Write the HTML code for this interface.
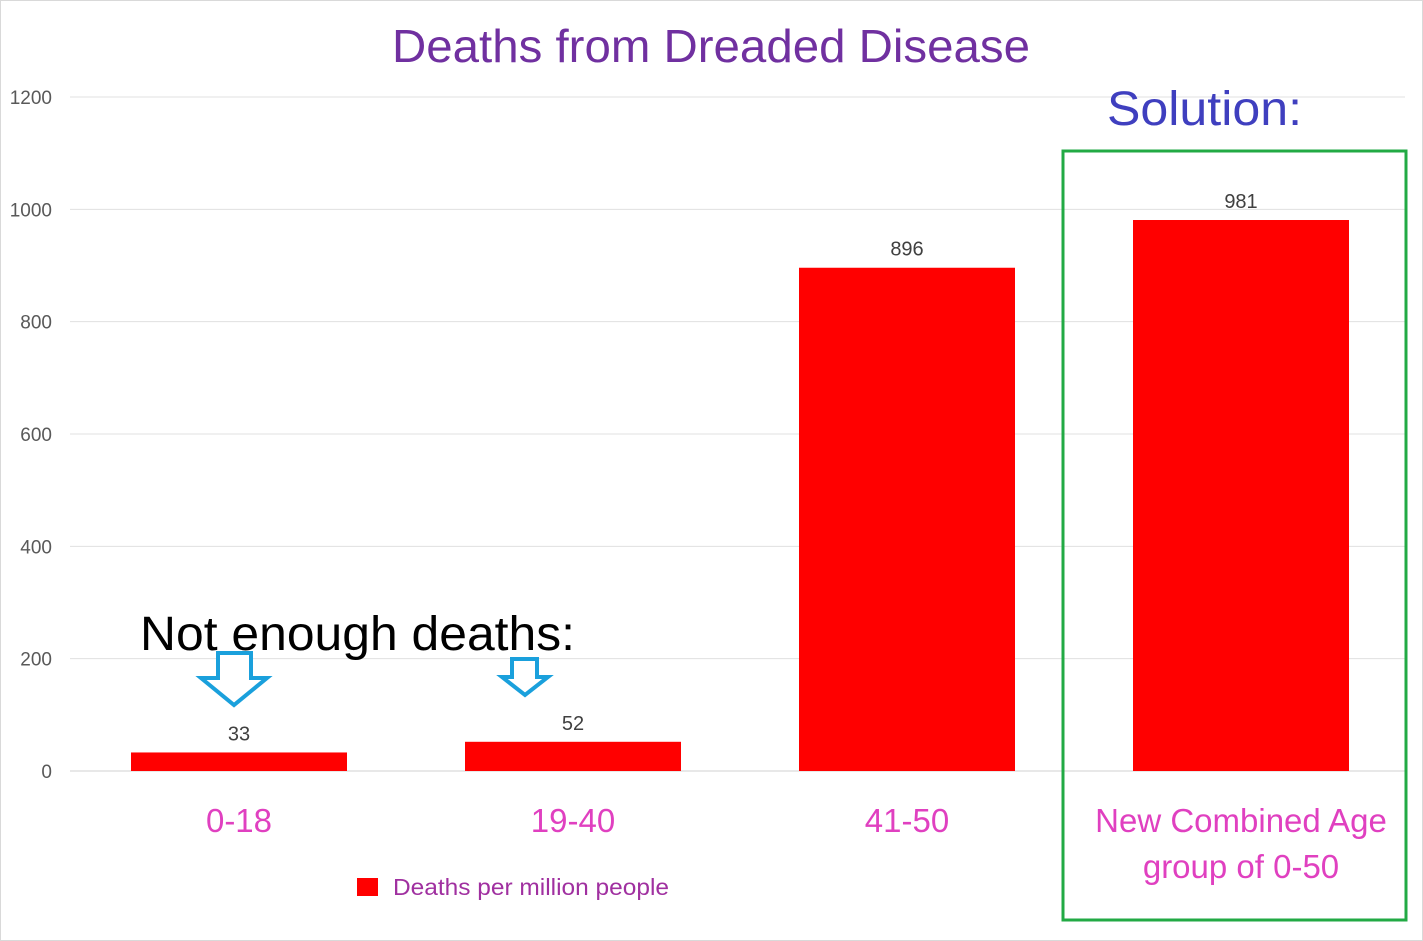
<!DOCTYPE html>
<html><head><meta charset="utf-8"><style>
body{margin:0;background:#fff;}
svg{display:block;font-family:"Liberation Sans",sans-serif;}
</style></head><body>
<svg id="chart" width="1423" height="941" viewBox="0 0 1423 941">
<rect x="0.5" y="0.5" width="1422" height="940" fill="#fff" stroke="#d9d9d9"/>
<text x="392" y="62" textLength="638" lengthAdjust="spacingAndGlyphs" font-size="46" fill="#7030a0">Deaths from Dreaded Disease</text>
<g id="grid"></g><g id="bars"></g>
<text x="1107" y="125" textLength="195" lengthAdjust="spacingAndGlyphs" font-size="48" fill="#3f3fbf">Solution:</text>
<rect x="1063" y="151" width="343" height="769" fill="none" stroke="#22aa44" stroke-width="3"/>
<text x="140" y="650" textLength="435" lengthAdjust="spacingAndGlyphs" font-size="48" fill="#000">Not enough deaths:</text>
<polygon points="218,653 251,653 251,678 267,678 234,705 201,678 218,678" fill="#fff" stroke="#1aa0dc" stroke-width="4"/>
<polygon points="512,659 537,659 537,677 548,677 525,695 502,677 512,677" fill="#fff" stroke="#1aa0dc" stroke-width="4"/>
<rect x="357" y="878" width="21" height="18" fill="#ff0000"/>
<text x="393" y="895" textLength="276" lengthAdjust="spacingAndGlyphs" font-size="23" fill="#a030a0">Deaths per million people</text>
</svg>
<script>
const categories=["0-18","19-40","41-50","New Combined Age|group of 0-50"];
const values=[33,52,896,981];
const ticks=[0,200,400,600,800,1000,1200];
const NS="http://www.w3.org/2000/svg";
const y=v=>771-v*(674/1200);
const xc=i=>239+i*334;
function mk(t,a,p){const e=document.createElementNS(NS,t);for(const k in a)e.setAttribute(k,a[k]);p.appendChild(e);return e;}
const g=document.getElementById('grid'),b=document.getElementById('bars');
ticks.forEach(t=>{
 const l=mk('line',{x1:70,x2:1405,y1:y(t),y2:y(t),stroke:t===0?'#d0d0d0':'#e0e0e0','stroke-width':1},g);
 
 
 const tx=mk('text',{x:52,y:y(t)+7,'text-anchor':'end','font-size':19,fill:'#595959'},g);
 tx.textContent=t;
 
 
});
values.forEach((v,i)=>{
 const r=mk('rect',{x:xc(i)-108,y:y(v),width:216,height:771-y(v),fill:'#ff0000'},b);
 
 
 const lb=mk('text',{x:xc(i),y:y(v)-12,'text-anchor':'middle','font-size':20,fill:'#404040'},b);
 lb.textContent=v;
 
 
 categories[i].split('|').forEach((s,j)=>{
  const c=mk('text',{x:xc(i),y:832+j*46,'text-anchor':'middle','font-size':33,fill:'#e040c0'},b);
  c.textContent=s;
  
  
 });
});
</script>
</body></html>
